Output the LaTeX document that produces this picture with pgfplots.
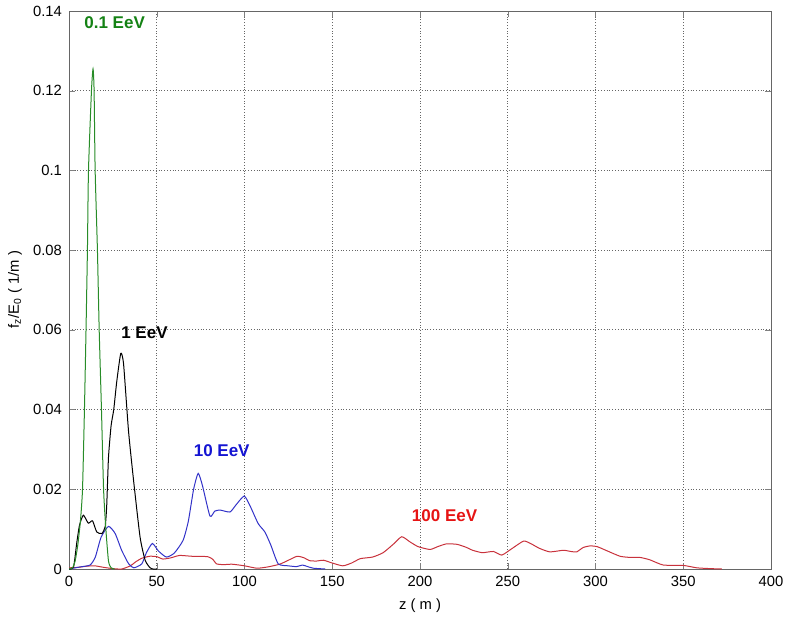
\documentclass[border=0pt]{standalone}
\usepackage{fontspec}
\setmainfont{Liberation Sans}
\usepackage{pgfplots}
\pgfplotsset{compat=1.18}
\definecolor{lgreen}{RGB}{40,140,40}
\definecolor{tgreen}{RGB}{20,130,20}
\definecolor{lblue}{RGB}{50,50,200}
\definecolor{tblue}{RGB}{20,20,210}
\definecolor{lred}{RGB}{200,50,60}
\definecolor{tred}{RGB}{230,20,20}

\begin{document}
\begin{tikzpicture}[font=\fontsize{7.4}{8.5}\selectfont]
\useasboundingbox (-34.5pt,-24pt) rectangle (358.5pt,284.5pt);
\begin{axis}[
    at={(0,0)}, anchor=south west,
    scale only axis, width=351pt, height=279pt,
    xmin=0, xmax=400, ymin=0, ymax=0.14,
    xtick={0,50,100,150,200,250,300,350,400},
    ytick={0,0.02,0.04,0.06,0.08,0.1,0.12,0.14},
    yticklabel style={/pgf/number format/fixed, /pgf/number format/precision=2},
    /pgf/number format/assume math mode=true,
    grid=major, major grid style={densely dotted, black!60},
    tick align=inside, major tick length=3pt,
    axis line style={black!60},
    xlabel={z ( m )}, ylabel={f\textsubscript{z}/E\textsubscript{0} ( 1/m )},
    xlabel style={at={(axis description cs:0.5,-0.066)}, anchor=center},
    ylabel style={at={(axis description cs:-0.077,0.5)}, anchor=center},
    every axis plot/.append style={line width=0.5pt, smooth, tension=0.35},
]
% 100 EeV
\addplot[lred] coordinates {
(0,0.0003)(5,0.0004)(10,0.0007)(14.7,0.0008)(20,0.0004)(25,0.0001)(30,0)(35,0.0008)
(38,0.0018)(41.5,0.0027)(46,0.0032)(50,0.0031)(53.5,0.0025)(58,0.0028)(63,0.0034)
(70,0.0032)(79,0.0031)(82,0.0024)(84,0.0013)(88,0.0011)(93,0.0012)(100,0.0008)
(107,0.0002)(113,0.0005)(120,0.0012)(125,0.0022)(130,0.0032)(134,0.0028)(137,0.0021)
(141,0.0020)(145,0.0022)(150,0.0015)(156,0.0008)(161,0.0015)(166,0.0026)(173,0.003)
(179,0.0041)(185,0.0063)(189.6,0.0081)(194.3,0.0068)(199,0.0056)(205.7,0.0049)
(210,0.0056)(215,0.0063)(221,0.0062)(226,0.0055)(230,0.0047)(235.5,0.0041)
(241.8,0.0044)(246.6,0.0035)(252.3,0.0051)(259,0.007)(263,0.0064)(268,0.0052)
(274,0.0043)(281.7,0.0047)(286,0.0044)(289.3,0.0043)(293,0.0054)(297,0.0058)
(301,0.0056)(306.4,0.0046)(314,0.0032)(320,0.0029)(325.4,0.0029)(331,0.0023)
(338.6,0.001)(350,0.0009)(357.7,0.0003)(365.3,0.0001)(372,0)
};
% 10 EeV
\addplot[lblue] coordinates {
(0,0)(6,0.0005)(12,0.001)(15,0.003)(18.3,0.008)(22.5,0.0107)(26.3,0.0089)(30,0.0047)
(34,0.0013)(37,0.0003)(41.5,0.0013)(44,0.004)(47.5,0.0064)(51,0.0045)(55.5,0.003)
(60,0.004)(65,0.0072)(68,0.012)(71,0.02)(73.6,0.024)(76,0.021)(80.3,0.0133)(83,0.0145)
(86,0.0148)(91.7,0.0143)(95,0.016)(99.8,0.0183)(103,0.016)(107.8,0.0114)(111.6,0.0093)
(115,0.006)(119.2,0.0013)(125,0.0008)(129.7,0.0006)(133,0.001)(136,0.0006)(139.2,0.0002)(146,0)
};
% 1 EeV
\addplot[black] coordinates {
(0,0)(2.6,0.0005)(4.4,0.0065)(6,0.011)(8.2,0.0135)(11,0.0115)(13.4,0.0121)(15.8,0.0093)
(18.7,0.0089)(20.6,0.0106)(21.5,0.016)(22.5,0.028)(24,0.036)(25.5,0.04)(27.2,0.047)
(29.5,0.0541)(31.1,0.0514)(33.9,0.0347)(36.8,0.0222)(40.5,0.008)(43.4,0.0022)
(46.2,0.0003)(48,0)(50,0)
};
% 0.1 EeV
\addplot[lgreen] coordinates {
(0,0)(2,0.0003)(3.5,0.002)(5,0.006)(6.5,0.012)(7.7,0.02)(8.8,0.04)(9.7,0.06)(10.5,0.08)
(11.1,0.1)(12.8,0.12)(13.7,0.1255)(14.3,0.12)(14.9,0.1)(16.2,0.08)(17.2,0.06)
(18.5,0.04)(19.7,0.02)(21,0.01)(22.5,0.002)(24,0.0003)(26,0)
};
\node[text=tgreen, font=\fontsize{8.5}{10}\selectfont\bfseries] at (axis cs:26,0.137) {0.1 EeV};
\node[text=black, font=\fontsize{8.5}{10}\selectfont\bfseries] at (axis cs:43,0.0593) {1 EeV};
\node[text=tblue, font=\fontsize{8.5}{10}\selectfont\bfseries] at (axis cs:87,0.0298) {10 EeV};
\node[text=tred, font=\fontsize{8.5}{10}\selectfont\bfseries] at (axis cs:214,0.0135) {100 EeV};
\end{axis}
\end{tikzpicture}
\end{document}
